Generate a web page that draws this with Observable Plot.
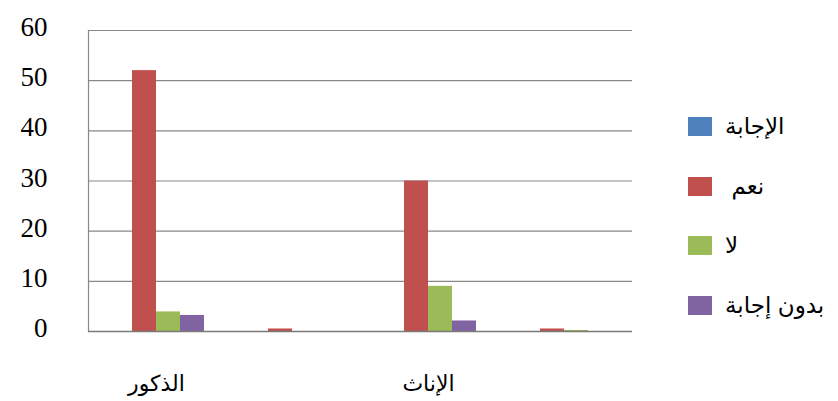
<!DOCTYPE html>
<html>
<head>
<meta charset="utf-8">
<script src="https://cdn.jsdelivr.net/npm/d3@7"></script>
<script src="https://cdn.jsdelivr.net/npm/@observablehq/plot@0.6"></script>
<style>
  html, body { margin: 0; padding: 0; background: #fff; }
  #wrap { position: relative; width: 838px; height: 401px; }
  #legend { position: absolute; left: 688px; top: 117px; font-family: "Liberation Sans", "DejaVu Sans", sans-serif; font-size: 23px; color: #000; }
  .item { display: flex; align-items: center; height: 19px; margin-bottom: 40.7px; }
  .swatch { width: 24px; height: 19px; margin-right: 13px; flex: none; }
  .name { white-space: pre; unicode-bidi: isolate; }
</style>
</head>
<body>
<div id="wrap"></div>
<script>
// Groups along the horizontal axis (two of them carry no label)
const groups = ["الذكور", "", "الإناث", ""];
// Answer categories, in legend order
const series = ["الإجابة", "نعم ", "لا", "بدون إجابة"];
const colors = ["#4F81BD", "#C0504D", "#9BBB59", "#8064A2"];
// Counts per group for each answer category
const answerValues = [0, 0, 0, 0];
const yesValues = [52, 0.5, 30, 0.5];
const noValues = [3.9, 0, 9, 0.2];
const noAnswerValues = [3.2, 0, 2.1, 0];
const yTicks = [0, 10, 20, 30, 40, 50, 60];

const seriesValues = [answerValues, yesValues, noValues, noAnswerValues];
const rows = [];
groups.forEach((g, i) => {
  series.forEach((s, j) => {
    rows.push({group: i, series: s, value: seriesValues[j][i]});
  });
});

const chart = Plot.plot({
  width: 838,
  height: 401,
  marginLeft: 86,
  marginRight: 205,
  marginTop: 30,
  marginBottom: 70,
  style: {background: "white", color: "black", fontFamily: "'Liberation Sans', 'DejaVu Sans', sans-serif"},
  fx: {domain: d3.range(groups.length), padding: 0, axis: null},
  x: {domain: series, paddingInner: 0, paddingOuter: 0.735, axis: null},
  y: {domain: [0, 60], axis: null},
  color: {domain: series, range: colors},
  marks: [
    Plot.gridY(yTicks, {stroke: "#888888", strokeOpacity: 1, strokeWidth: 1.2}),
    Plot.frame({anchor: "left", facetAnchor: "left", stroke: "#888888", strokeWidth: 1.2}),
    Plot.barY(rows, {fx: "group", x: "series", y: "value", fill: "series"}),
    Plot.ruleY([0], {stroke: "#7a7a7a", strokeWidth: 1.6}),
    Plot.axisY(yTicks, {tickSize: 0, tickPadding: 41, fontSize: 27, fontFamily: "'Liberation Serif', serif", dy: -3, label: null}),
    Plot.axisFx({anchor: "bottom", tickSize: 0, tickPadding: 44, fontSize: 22, tickFormat: (i) => groups[i], label: null})
  ]
});

const wrap = document.getElementById("wrap");
wrap.appendChild(chart);

// Legend on the right side
const legend = d3.select(wrap).append("div").attr("id", "legend");
const items = legend.selectAll(".item").data(series).join("div").attr("class", "item");
items.append("div").attr("class", "swatch").style("background", (d, i) => colors[i]);
items.append("span").attr("class", "name").attr("dir", "rtl").text((d) => d);
</script>
</body>
</html>
